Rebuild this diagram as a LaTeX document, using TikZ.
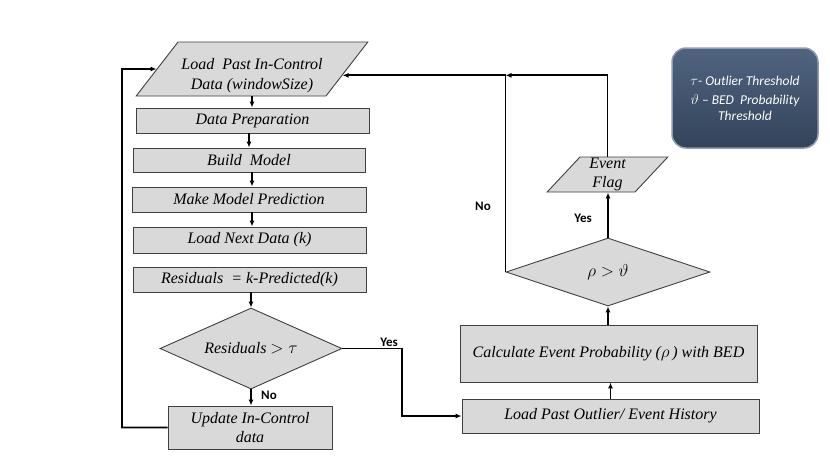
\documentclass[tikz,border=0pt]{standalone}
\usepackage{fontspec}
\setmainfont{Liberation Serif}
\newfontfamily\carlito{Carlito}
\usetikzlibrary{shapes.geometric,arrows.meta}
\definecolor{boxgray}{HTML}{D9D9D9}
\definecolor{legtop}{HTML}{506480}
\definecolor{legbot}{HTML}{33435A}
\definecolor{legedge}{HTML}{8E9CB0}
\begin{document}
\begin{tikzpicture}[x=1pt,y=-1pt,
  txt/.style={font=\fontsize{16}{19.5}\selectfont\itshape, align=center, inner sep=0pt},
  box/.style={txt, draw=black!75, line width=0.9pt, fill=boxgray, rectangle},
  para/.style={box, trapezium, trapezium stretches=true},
  dia/.style={box, diamond, aspect=2.4},
  conn/.style={line width=1.8pt, -{Latex[length=6pt,width=5pt]}},
  lbl/.style={font=\carlito\bfseries\fontsize{13}{15}\selectfont, inner sep=0pt},
  legend/.style={rounded corners=14pt, top color=legtop, bottom color=legbot, draw=legedge, line width=1.5pt, text=white, font=\carlito\itshape\fontsize{13.5}{16}\selectfont, align=center, inner sep=0pt}
]
\useasboundingbox (0,0) rectangle (830,467);

% left column
\node[para, minimum width=232pt, minimum height=54pt, trapezium left angle=49.6, trapezium right angle=130.4] (load) at (252,69) {\rule{0pt}{24pt}Load\ \ Past In-Control\\Data (windowSize)};
\node[box, minimum width=233pt, minimum height=25pt] (prep) at (252.5,120.5) {Data Preparation};
\node[box, minimum width=232pt, minimum height=24pt] (build) at (249,160) {Build\ \ Model};
\node[box, minimum width=234pt, minimum height=25pt] (pred) at (249,199.5) {Make Model Prediction};
\node[box, minimum width=233pt, minimum height=26pt] (next) at (249.5,240) {Load Next Data (k)};
\node[box, minimum width=233pt, minimum height=25pt] (resid) at (249.5,279.5) {Residuals\ \ = k-Predicted(k)};
\node[dia, minimum width=182pt, minimum height=81pt] (d1) at (251,348.5) {Residuals $>\tau$};
\node[box, minimum width=164pt, minimum height=43pt] (upd) at (250,427.5) {Update In-Control\\data};

% right column
\node[box, minimum width=297pt, minimum height=34pt] (outl) at (610.5,416) {Load Past Outlier/ Event History};
\node[box, minimum width=297pt, minimum height=57pt] (calc) at (608.5,353.5) {Calculate Event Probability ($\rho$\,) with BED};
\node[dia, minimum width=204pt, minimum height=68pt] (d2) at (608,272) {$\rho>\vartheta$};
\node[para, minimum width=121pt, minimum height=35pt, trapezium left angle=57, trapezium right angle=123] (flag) at (607.5,174.5) {Event\\Flag};

% legend
\node[legend, minimum width=146pt, minimum height=100pt] (leg) at (745,98) {$\tau$- Outlier Threshold\\[3pt]$\vartheta$ – BED\ \ Probability\\Threshold};

% connectors
\draw[conn] (load.south) -- (load.south |- prep.north);
\draw[conn] (build.north |- prep.south) -- (build.north);
\draw[conn] ([xshift=3pt]build.south) -- ([xshift=3pt]build.south |- pred.north);
\draw[conn] ([xshift=3pt]pred.south) -- ([xshift=3pt]pred.south |- next.north);
\draw[conn] (d1.north |- resid.south) -- (d1.north);
\draw[conn] (d1.south) -- (d1.south |- upd.north);
\coordinate (lc) at (122,69);
\draw[conn] (upd.west) -| (lc) -- (load.west);
\coordinate (yc) at (402,348.5);
\draw[conn] (d1.east) -- (yc) |- (outl.west);
\draw[conn] (outl.north) -- (outl.north |- calc.south);
\draw[conn] (d2.south |- calc.north) -- (d2.south);
\draw[conn] (d2.north) -- (d2.north |- flag.south);
\coordinate (j) at (d2.west |- load.-4.6);
\draw[conn] (flag.north) |- (j);
\draw[conn] (d2.west) -- (j) -- (load.-4.6);

% labels
\node[lbl] (ly1) at (389,342) {Yes};
\node[lbl] (ln1) at (269,395) {No};
\node[lbl] (ly2) at (583,218) {Yes};
\node[lbl] (ln2) at (483,206) {No};
\end{tikzpicture}
\end{document}
